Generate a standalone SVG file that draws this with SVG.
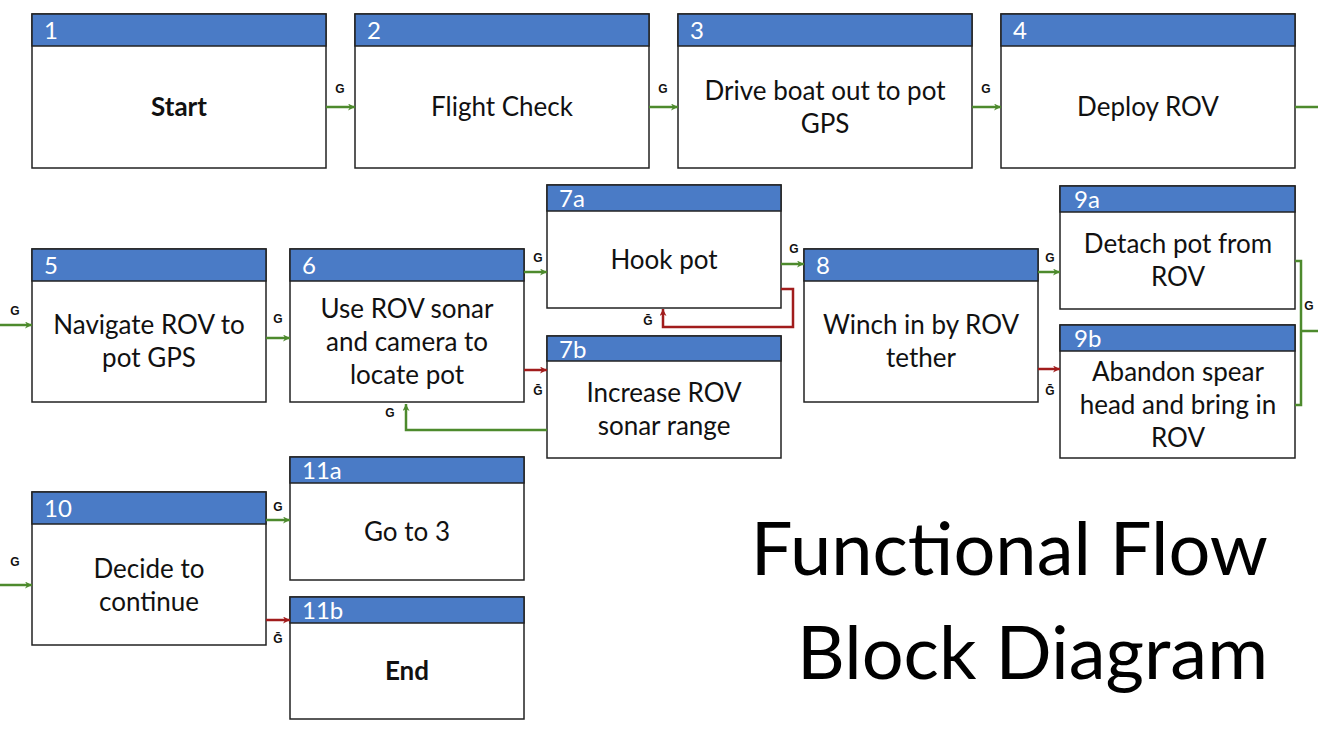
<svg xmlns="http://www.w3.org/2000/svg" width="1318" height="740" viewBox="0 0 1318 740">
<style>
.b{fill:#fff;stroke:#222;stroke-width:1.5}
.h{fill:#4a7bc6;stroke:#222;stroke-width:1.5}
.n{font-family:Lato,"Open Sans",sans-serif;font-size:24px;fill:#fff}
.t{font-family:Lato,"Open Sans",sans-serif;font-size:26px;fill:#111;text-anchor:middle}
.g{fill:none;stroke:#4d8a2d;stroke-width:2.5}
.r{fill:none;stroke:#a11c1c;stroke-width:2.5}
.l{font-family:"Liberation Sans",Arial,sans-serif;font-size:12px;font-weight:bold;fill:#111;text-anchor:middle}
.T{font-family:Lato,"Open Sans",sans-serif;font-size:74px;fill:#000;text-anchor:end}
</style>
<defs>
<marker id="ag" viewBox="0 0 10 10" refX="10" refY="5" markerWidth="7" markerHeight="7" markerUnits="userSpaceOnUse" orient="auto"><path d="M0,0L10,5L0,10L3,5Z" fill="#4d8a2d"/></marker>
<marker id="ar" viewBox="0 0 10 10" refX="10" refY="5" markerWidth="7" markerHeight="7" markerUnits="userSpaceOnUse" orient="auto"><path d="M0,0L10,5L0,10L3,5Z" fill="#a11c1c"/></marker>
</defs>
<rect width="1318" height="740" fill="#fff"/>
<g id="n1"><rect class="b" x="32" y="14" width="294" height="154"/><rect class="h" x="32" y="14" width="294" height="32"/><text class="n" x="44" y="39">1</text><text class="t" x="179" y="116" font-weight="bold">Start</text></g>
<g id="n2"><rect class="b" x="355" y="14" width="294" height="154"/><rect class="h" x="355" y="14" width="294" height="32"/><text class="n" x="367" y="39">2</text><text class="t" x="502" y="116">Flight Check</text></g>
<g id="n3"><rect class="b" x="678" y="14" width="294" height="154"/><rect class="h" x="678" y="14" width="294" height="32"/><text class="n" x="690" y="39">3</text><text class="t" x="825" y="100">Drive boat out to pot</text><text class="t" x="825" y="133">GPS</text></g>
<g id="n4"><rect class="b" x="1001" y="14" width="294" height="154"/><rect class="h" x="1001" y="14" width="294" height="32"/><text class="n" x="1013" y="39">4</text><text class="t" x="1148" y="116">Deploy ROV</text></g>
<g id="n5"><rect class="b" x="32" y="249" width="234" height="153"/><rect class="h" x="32" y="249" width="234" height="32"/><text class="n" x="44" y="274">5</text><text class="t" x="149" y="334">Navigate ROV to</text><text class="t" x="149" y="367">pot GPS</text></g>
<g id="n6"><rect class="b" x="290" y="249" width="234" height="153"/><rect class="h" x="290" y="249" width="234" height="32"/><text class="n" x="302" y="274">6</text><text class="t" x="407" y="318">Use ROV sonar</text><text class="t" x="407" y="351">and camera to</text><text class="t" x="407" y="384">locate pot</text></g>
<g id="n7a"><rect class="b" x="547" y="185" width="234" height="123"/><rect class="h" x="547" y="185" width="234" height="26"/><text class="n" x="559" y="207">7a</text><text class="t" x="664" y="269">Hook pot</text></g>
<g id="n7b"><rect class="b" x="547" y="336" width="234" height="122"/><rect class="h" x="547" y="336" width="234" height="25"/><text class="n" x="559" y="358">7b</text><text class="t" x="664" y="402">Increase ROV</text><text class="t" x="664" y="435">sonar range</text></g>
<g id="n8"><rect class="b" x="804" y="249" width="234" height="153"/><rect class="h" x="804" y="249" width="234" height="32"/><text class="n" x="816" y="274">8</text><text class="t" x="921" y="334">Winch in by ROV</text><text class="t" x="921" y="367">tether</text></g>
<g id="n9a"><rect class="b" x="1060" y="186" width="235" height="123"/><rect class="h" x="1060" y="186" width="235" height="26"/><text class="n" x="1074" y="208">9a</text><text class="t" x="1178" y="253">Detach pot from</text><text class="t" x="1178" y="286">ROV</text></g>
<g id="n9b"><rect class="b" x="1060" y="325" width="235" height="133"/><rect class="h" x="1060" y="325" width="235" height="26"/><text class="n" x="1074" y="347">9b</text><text class="t" x="1178" y="381">Abandon spear</text><text class="t" x="1178" y="414">head and bring in</text><text class="t" x="1178" y="447">ROV</text></g>
<g id="n10"><rect class="b" x="32" y="492" width="234" height="153"/><rect class="h" x="32" y="492" width="234" height="32"/><text class="n" x="44" y="517">10</text><text class="t" x="149" y="578">Decide to</text><text class="t" x="149" y="611">continue</text></g>
<g id="n11a"><rect class="b" x="290" y="457" width="234" height="123"/><rect class="h" x="290" y="457" width="234" height="26"/><text class="n" x="302" y="479">11a</text><text class="t" x="407" y="541">Go to 3</text></g>
<g id="n11b"><rect class="b" x="290" y="597" width="234" height="122"/><rect class="h" x="290" y="597" width="234" height="26"/><text class="n" x="302" y="619">11b</text><text class="t" x="407" y="680" font-weight="bold">End</text></g>
<g id="connectors">
<path class="g" d="M326,107H355" marker-end="url(#ag)"/><text class="l" x="340" y="93">G</text>
<path class="g" d="M649,107H678" marker-end="url(#ag)"/><text class="l" x="663" y="93">G</text>
<path class="g" d="M972,107H1001" marker-end="url(#ag)"/><text class="l" x="986" y="93">G</text>
<path class="g" d="M1295,107H1318"/>
<path class="g" d="M0,325H32" marker-end="url(#ag)"/><text class="l" x="15" y="315">G</text>
<path class="g" d="M266,338H290" marker-end="url(#ag)"/><text class="l" x="278" y="323">G</text>
<path class="g" d="M524,272H547" marker-end="url(#ag)"/><text class="l" x="538" y="262">G</text>
<path class="r" d="M524,370H547" marker-end="url(#ar)"/><text class="l" x="538" y="395">Ḡ</text>
<path class="g" d="M547,430H406V404" marker-end="url(#ag)"/><text class="l" x="390" y="417">G</text>
<path class="g" d="M781,264H804" marker-end="url(#ag)"/><text class="l" x="794" y="253">G</text>
<path class="r" d="M781,289H793V327H663V309" marker-end="url(#ar)"/><text class="l" x="648" y="325">Ḡ</text>
<path class="g" d="M1038,272H1060" marker-end="url(#ag)"/><text class="l" x="1050" y="262">G</text>
<path class="r" d="M1038,369H1060" marker-end="url(#ar)"/><text class="l" x="1050" y="395">Ḡ</text>
<path class="g" d="M1295,261H1301V405H1295M1301,331H1318"/><text class="l" x="1309" y="310">G</text>
<path class="g" d="M0,585H32" marker-end="url(#ag)"/><text class="l" x="15" y="566">G</text>
<path class="g" d="M266,520H290" marker-end="url(#ag)"/><text class="l" x="278" y="511">G</text>
<path class="r" d="M266,620H290" marker-end="url(#ar)"/><text class="l" x="278" y="643">Ḡ</text>
</g>
<text class="T" x="1268" y="575">Functional Flow</text>
<text class="T" x="1268" y="679">Block Diagram</text>
</svg>
